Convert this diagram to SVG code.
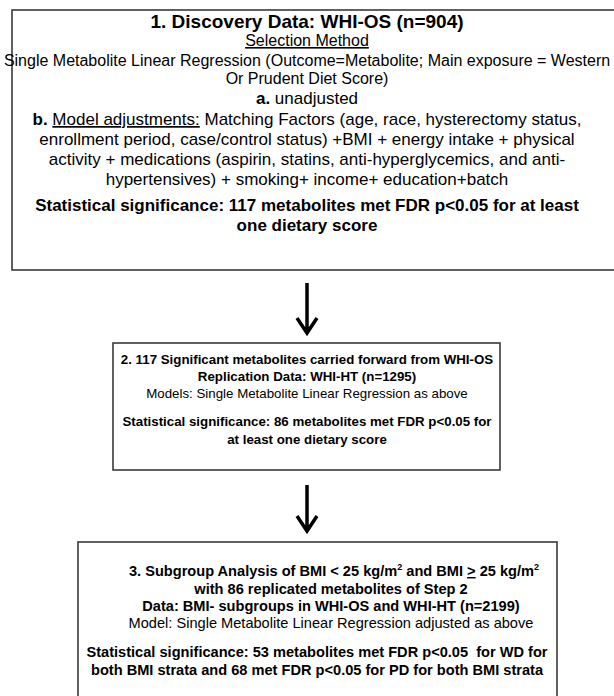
<svg xmlns="http://www.w3.org/2000/svg" width="614" height="696" viewBox="0 0 614 696">
<style>
.box{fill:#fff;stroke:#3a3a3a;stroke-width:1.6}
text{font-family:"Liberation Sans",Arial,sans-serif;fill:#000;text-anchor:middle}
.b{font-weight:bold}
.u{text-decoration:underline}
.s0{font-size:19px}
.s1{font-size:16px}
.s2{font-size:17px}
.s3{font-size:13.3px}
.s4{font-size:14.6px}
.arrow{fill:none;stroke:#000;stroke-width:3.5}
</style>
<rect width="614" height="696" fill="#fff"/>
<g id="node1">
<rect class="box" x="12" y="10" width="620" height="260"/>
<text class="b s0" x="307" y="28">1. Discovery Data: WHI-OS (n=904)</text>
<text class="s1 u" x="307" y="46">Selection Method</text>
<text class="s1" x="307" y="66">Single Metabolite Linear Regression (Outcome=Metabolite; Main exposure = Western</text>
<text class="s1" x="307" y="84">Or Prudent Diet Score)</text>
<text class="s2" x="307" y="104" font-size="18"><tspan class="b">a.</tspan> unadjusted</text>
<text class="s2" x="307" y="125"><tspan class="b">b.</tspan> <tspan class="u">Model adjustments:</tspan> Matching Factors (age, race, hysterectomy status,</text>
<text class="s2" x="307" y="145">enrollment period, case/control status) +BMI + energy intake + physical</text>
<text class="s2" x="307" y="165">activity + medications (aspirin, statins, anti-hyperglycemics, and anti-</text>
<text class="s2" x="307" y="185">hypertensives) + smoking+ income+ education+batch</text>
<text class="b s2" x="307" y="211">Statistical significance: 117 metabolites met FDR p&lt;0.05 for at least</text>
<text class="b s2" x="307" y="231">one dietary score</text>
</g>
<g id="node2">
<rect class="box" x="113" y="343" width="387" height="127"/>
<text class="b s3" x="307" y="364">2. 117 Significant metabolites carried forward from WHI-OS</text>
<text class="b s3" x="307" y="381">Replication Data: WHI-HT (n=1295)</text>
<text class="s3" x="307" y="398">Models: Single Metabolite Linear Regression as above</text>
<text class="b s3" x="307" y="426">Statistical significance: 86 metabolites met FDR p&lt;0.05 for</text>
<text class="b s3" x="307" y="444">at least one dietary score</text>
</g>
<g id="node3">
<rect class="box" x="78" y="542" width="479" height="170"/>
<text class="b s4" x="334" y="576">3. Subgroup Analysis of BMI &lt; 25 kg/m<tspan font-size="9" dy="-6">2</tspan><tspan dy="6"> and BMI </tspan><tspan class="u">&gt;</tspan> 25 kg/m<tspan font-size="9" dy="-6">2</tspan></text>
<text class="b s4" x="331" y="594">with 86 replicated metabolites of Step 2</text>
<text class="b s4" x="331" y="611">Data: BMI- subgroups in WHI-OS and WHI-HT (n=2199)</text>
<text class="s4" x="331" y="628" font-size="15.4">Model: Single Metabolite Linear Regression adjusted as above</text>
<text class="b s4" x="317" y="657" xml:space="preserve">Statistical significance: 53 metabolites met FDR p&lt;0.05  for WD for</text>
<text class="b s4" x="317" y="675">both BMI strata and 68 met FDR p&lt;0.05 for PD for both BMI strata</text>
</g>
<g id="connectors">
<path class="arrow" d="M307 283 V332 M297 318 L307 333 L317 318"/>
<path class="arrow" d="M307 485 V530 M297 516 L307 531 L317 516"/>
</g>
</svg>
